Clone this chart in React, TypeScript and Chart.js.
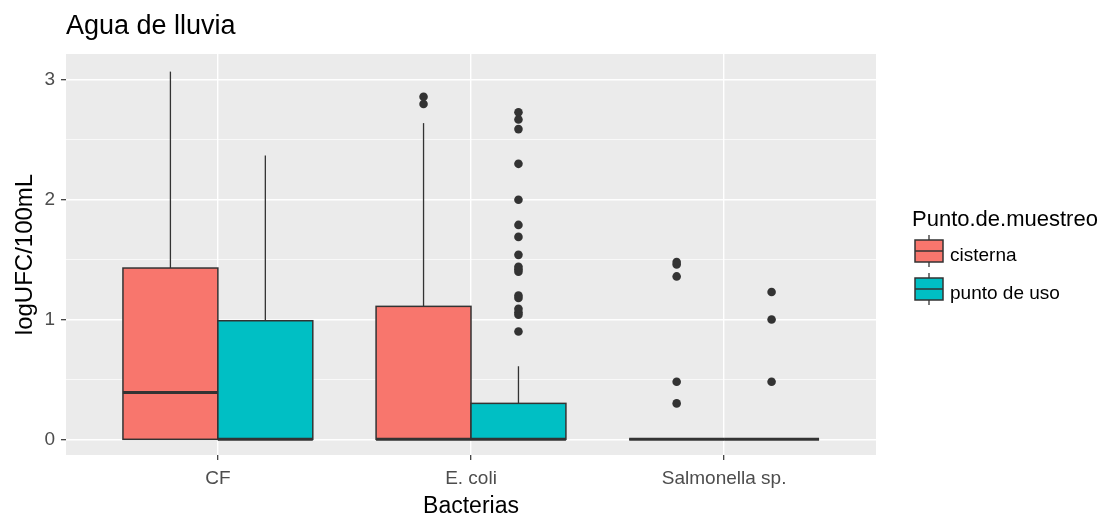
import React, { useEffect, useRef } from 'react';
import { Chart, registerables } from 'chart.js';

Chart.register(...registerables);

// ---- data ----
const categories = ['CF', 'E. coli', 'Salmonella sp.'];
const groupNames = ['cisterna', 'punto de uso'];

const cisternaLower = [0, 0, 0];
const cisternaQ1 = [0, 0, 0];
const cisternaMedian = [0.39, 0, 0];
const cisternaQ3 = [1.43, 1.11, 0];
const cisternaUpper = [3.07, 2.64, 0];
const cisternaOutliers: number[][] = [[], [2.8, 2.86], [0.3, 0.48, 1.36, 1.46, 1.48]];

const usoLower = [0, 0, 0];
const usoQ1 = [0, 0, 0];
const usoMedian = [0, 0, 0];
const usoQ3 = [0.99, 0.3, 0];
const usoUpper = [2.37, 0.61, 0];
const usoOutliers: number[][] = [
  [],
  [0.9, 1.04, 1.06, 1.09, 1.18, 1.2, 1.4, 1.42, 1.44, 1.54, 1.69, 1.79, 2.0, 2.3, 2.59, 2.67, 2.73],
  [0.48, 1.0, 1.23],
];

const yTicks = [0, 0.5, 1, 1.5, 2, 2.5, 3];
const yTickLabels = ['0', '', '1', '', '2', '', '3'];
const xTicks = [1, 2, 3];

// ---- styling ----
const FONT = '"Liberation Sans", Arial, sans-serif';
const fills = ['#F8766D', '#00BFC4'];
const DODGE = 0.1875;
const HALF = 0.1875;

const groups = [
  { lower: cisternaLower, q1: cisternaQ1, median: cisternaMedian, q3: cisternaQ3, upper: cisternaUpper, outliers: cisternaOutliers },
  { lower: usoLower, q1: usoQ1, median: usoMedian, q3: usoQ3, upper: usoUpper, outliers: usoOutliers },
];

const centerFor = (ci: number, gi: number) => ci + 1 + (gi === 0 ? -DODGE : DODGE);

const backgroundPlugin = {
  id: 'panelBg',
  beforeDraw(chart: any) {
    const { ctx, chartArea } = chart;
    ctx.save();
    ctx.fillStyle = '#FFFFFF';
    ctx.fillRect(0, 0, chart.width, chart.height);
    ctx.fillStyle = '#EBEBEB';
    ctx.fillRect(chartArea.left, chartArea.top, chartArea.right - chartArea.left, chartArea.bottom - chartArea.top);
    ctx.restore();
  },
};

const boxPlugin = {
  id: 'boxes',
  beforeDatasetsDraw(chart: any) {
    const { ctx } = chart;
    const x = chart.scales.x;
    const y = chart.scales.y;
    ctx.save();
    ctx.beginPath();
    ctx.rect(chart.chartArea.left, chart.chartArea.top, chart.chartArea.right - chart.chartArea.left, chart.chartArea.bottom - chart.chartArea.top);
    ctx.clip();
    categories.forEach((_c, ci) => {
      groups.forEach((g, gi) => {
        const c = centerFor(ci, gi);
        const xl = x.getPixelForValue(c - HALF);
        const xr = x.getPixelForValue(c + HALF);
        const xc = x.getPixelForValue(c);
        const yLo = y.getPixelForValue(g.lower[ci]);
        const yQ1 = y.getPixelForValue(g.q1[ci]);
        const yMed = y.getPixelForValue(g.median[ci]);
        const yQ3 = y.getPixelForValue(g.q3[ci]);
        const yUp = y.getPixelForValue(g.upper[ci]);
        ctx.strokeStyle = '#333333';
        ctx.lineWidth = 1.3;
        ctx.beginPath();
        ctx.moveTo(xc, yQ3);
        ctx.lineTo(xc, yUp);
        ctx.moveTo(xc, yQ1);
        ctx.lineTo(xc, yLo);
        ctx.stroke();
        ctx.fillStyle = fills[gi];
        ctx.fillRect(xl, yQ3, xr - xl, yQ1 - yQ3);
        ctx.lineWidth = 1.5;
        ctx.strokeRect(xl, yQ3, xr - xl, yQ1 - yQ3);
        ctx.lineWidth = 3;
        ctx.beginPath();
        ctx.moveTo(xl, yMed);
        ctx.lineTo(xr, yMed);
        ctx.stroke();
      });
    });
    ctx.restore();
  },
};

const annotationPlugin = {
  id: 'titleLegend',
  afterDraw(chart: any) {
    const { ctx, chartArea } = chart;
    ctx.save();
    // title
    ctx.fillStyle = '#000000';
    ctx.font = `27px ${FONT}`;
    ctx.textAlign = 'left';
    ctx.textBaseline = 'alphabetic';
    ctx.fillText('Agua de lluvia', chartArea.left, 34);

    // legend
    const lx = 912;
    ctx.font = `22px ${FONT}`;
    ctx.fillText('Punto.de.muestreo', lx, 226);
    groupNames.forEach((name, i) => {
      const cy = 251 + i * 38;
      const kx = 915;
      const kw = 28;
      ctx.strokeStyle = '#333333';
      ctx.lineWidth = 1.3;
      ctx.beginPath();
      ctx.moveTo(kx + kw / 2, cy - 16);
      ctx.lineTo(kx + kw / 2, cy + 16);
      ctx.stroke();
      ctx.fillStyle = fills[i];
      ctx.fillRect(kx, cy - 11, kw, 22);
      ctx.lineWidth = 1.5;
      ctx.strokeRect(kx, cy - 11, kw, 22);
      ctx.beginPath();
      ctx.moveTo(kx, cy);
      ctx.lineTo(kx + kw, cy);
      ctx.stroke();
      ctx.fillStyle = '#000000';
      ctx.font = `19px ${FONT}`;
      ctx.fillText(name, 950, cy + 10);
    });
    ctx.restore();
  },
};

export default function App() {
  const canvasRef = useRef<HTMLCanvasElement | null>(null);

  useEffect(() => {
    document.body.style.margin = '0';
    const canvas = canvasRef.current;
    if (!canvas) return;
    Chart.defaults.font.family = FONT;

    const datasets = groups.map((g, gi) => ({
      label: groupNames[gi],
      data: g.outliers.flatMap((vals, ci) => vals.map((v) => ({ x: centerFor(ci, gi), y: v }))),
      pointRadius: 4.3,
      pointBackgroundColor: '#333333',
      pointBorderWidth: 0,
      pointHoverRadius: 4.3,
      showLine: false,
    }));

    const isMajor = (v: number) => yTickLabels[yTicks.indexOf(v)] !== '';

    const chart = new Chart(canvas, {
      type: 'scatter',
      data: { datasets },
      plugins: [backgroundPlugin, boxPlugin, annotationPlugin],
      options: {
        animation: false,
        responsive: false,
        maintainAspectRatio: false,
        devicePixelRatio: 1,
        events: [],
        layout: { padding: { top: 54, right: 230, bottom: 0, left: 0 } },
        plugins: {
          legend: { display: false },
          tooltip: { enabled: false },
          title: { display: false },
        },
        scales: {
          x: {
            type: 'linear',
            min: 0.4,
            max: 3.6,
            afterBuildTicks: (s: any) => {
              s.ticks = xTicks.map((v) => ({ value: v }));
            },
            afterFit: (s: any) => {
              s.height = 63;
            },
            ticks: {
              callback: (v: any) => categories[xTicks.indexOf(Number(v))] ?? '',
              color: '#4D4D4D',
              font: { size: 19 },
              padding: 7,
              autoSkip: false,
              maxRotation: 0,
            },
            grid: { color: '#FFFFFF', lineWidth: 1.4, tickColor: '#333333', tickLength: 5, tickWidth: 1.2 },
            border: { display: false },
            title: {
              display: true,
              text: 'Bacterias',
              color: '#000000',
              font: { size: 23, lineHeight: 1 },
              padding: { top: 0, bottom: 0 },
            },
          },
          y: {
            type: 'linear',
            min: -0.131,
            max: 3.217,
            afterBuildTicks: (s: any) => {
              s.ticks = yTicks.map((v) => ({ value: v }));
            },
            afterFit: (s: any) => {
              s.width = 66;
            },
            ticks: {
              callback: (v: any) => yTickLabels[yTicks.indexOf(Number(v))] ?? '',
              color: '#4D4D4D',
              font: { size: 19 },
              padding: 6,
              autoSkip: false,
            },
            grid: {
              color: '#FFFFFF',
              lineWidth: (ctx: any) => (isMajor(ctx.tick?.value) ? 1.4 : 0.7),
              tickColor: (ctx: any) => (isMajor(ctx.tick?.value) ? '#333333' : 'rgba(0,0,0,0)'),
              tickLength: 5,
              tickWidth: 1.2,
            },
            border: { display: false },
            title: {
              display: true,
              text: 'logUFC/100mL',
              color: '#000000',
              font: { size: 24, lineHeight: 1 },
              padding: { top: 13, bottom: 0 },
            },
          },
        },
      } as any,
    });

    return () => chart.destroy();
  }, []);

  return (
    <div style={{ position: 'absolute', left: 0, top: 0, width: 1106, height: 518 }}>
      <canvas ref={canvasRef} width={1106} height={518} />
    </div>
  );
}
